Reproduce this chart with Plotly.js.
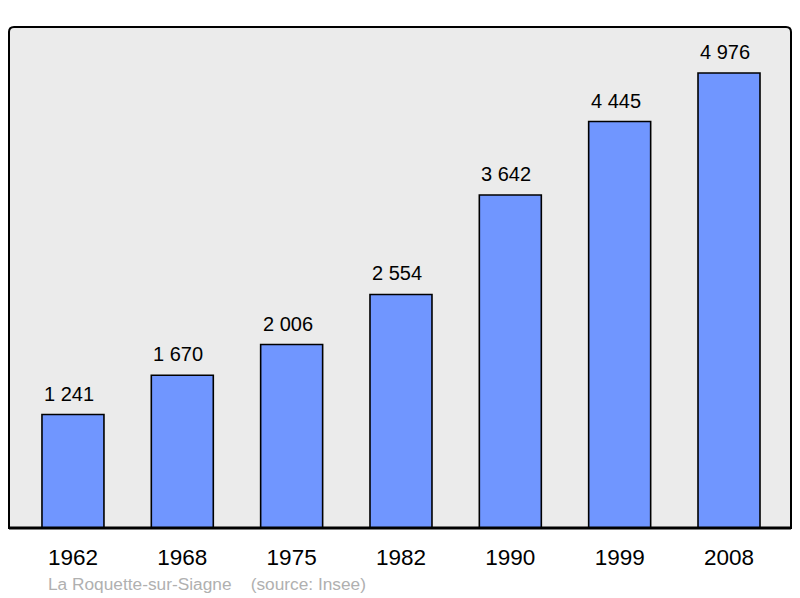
<!DOCTYPE html>
<html>
<head>
<meta charset="utf-8">
<script src="https://cdn.plot.ly/plotly-3.0.1.min.js"></script>
<style>html,body{margin:0;padding:0;background:#fff;}#chart{width:800px;height:598px;}</style>
</head>
<body>
<div id="chart"></div>
<script>
const years = ["1962", "1968", "1975", "1982", "1990", "1999", "2008"];
const population = [1241, 1670, 2006, 2554, 3642, 4445, 4976];
const sourceText = "La Roquette-sur-Siagne    (source: Insee)";

function fmt(v) {
  return String(v).replace(/\B(?=(\d{3})+(?!\d))/g, "\u00a0");
}

const L = 9, R = 9, T = 27, B = 70;
const W = 800, H = 598;
const pw = W - L - R, ph = H - T - B;
const rx = 5 / pw, ry = 5 / ph;

const trace = {
  type: "bar",
  x: years,
  y: population,
  width: 0.567,
  marker: { color: "#7096ff", line: { color: "#000", width: 1.6 } },
  hoverinfo: "none"
};

const annotations = years.map((yr, i) => ({
  x: i, y: population[i], xref: "x", yref: "y",
  text: fmt(population[i]), showarrow: false,
  yanchor: "bottom", yshift: 8, xshift: -4,
  font: { family: "Liberation Sans, Arial, sans-serif", size: 20, color: "#000" }
}));
annotations.push({
  xref: "paper", yref: "paper", x: 37 / pw, y: -56 / ph,
  xanchor: "left", yanchor: "middle", showarrow: false,
  text: sourceText.replace(/ /g, "\u00a0"),
  font: { family: "Liberation Sans, Arial, sans-serif", size: 17.3, color: "#b0b0b0" }
});

const path = `M 0 0 L 0 ${1 - ry} Q 0 1 ${rx} 1 L ${1 - rx} 1 Q 1 1 1 ${1 - ry} L 1 0 Z`;

const layout = {
  width: W, height: H,
  margin: { l: L, r: R, t: T, b: B, pad: 0 },
  paper_bgcolor: "#fff",
  plot_bgcolor: "rgba(0,0,0,0)",
  showlegend: false,
  xaxis: {
    type: "category",
    range: [-0.585, 6.567],
    showgrid: false, zeroline: false, showline: false,
    ticks: "", ticklabelstandoff: 13,
    tickfont: { family: "Liberation Sans, Arial, sans-serif", size: 22.5, color: "#000" }
  },
  yaxis: {
    range: [0, 5479],
    showgrid: false, zeroline: false, showline: false,
    showticklabels: false, ticks: ""
  },
  shapes: [
    { type: "path", xref: "paper", yref: "paper", path: path,
      fillcolor: "#ebebeb", line: { color: "#000", width: 2 }, layer: "below" },
    { type: "line", xref: "paper", yref: "paper", x0: 0, x1: 1, y0: 0, y1: 0,
      line: { color: "#000", width: 3 }, layer: "above" }
  ],
  annotations: annotations
};

Plotly.newPlot("chart", [trace], layout, { staticPlot: true, displayModeBar: false });
</script>
</body>
</html>
